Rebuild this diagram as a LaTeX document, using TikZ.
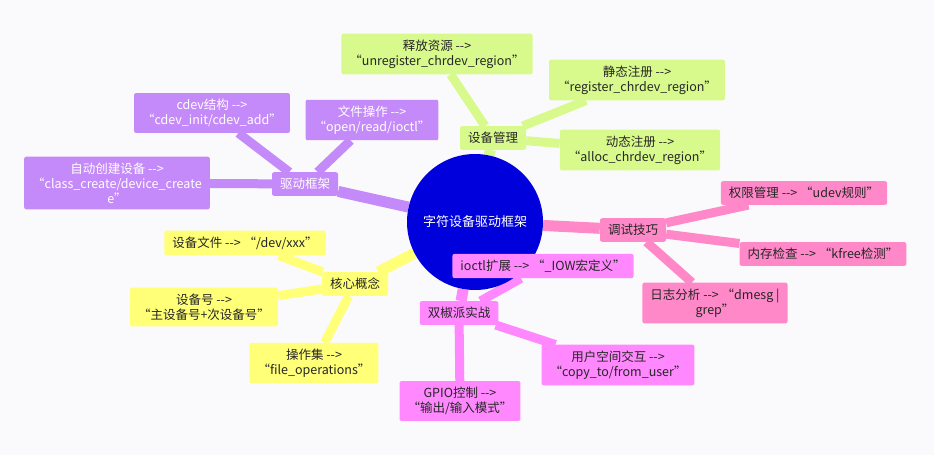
\documentclass[tikz,border=0pt]{standalone}
\usepackage{fontspec}
\newfontfamily\cjk{Noto Sans CJK SC}
\usetikzlibrary{backgrounds}
\definecolor{rootblue}{HTML}{0000DD}
\definecolor{drvpurple}{HTML}{C58AF9}
\definecolor{mgrgreen}{HTML}{D8FA8C}
\definecolor{dbgpink}{HTML}{FF88C8}
\definecolor{pimagenta}{HTML}{FF88FF}
\definecolor{coreyellow}{HTML}{FFFF78}
\definecolor{bgcol}{HTML}{FAFAFC}

\tikzset{
  leaf/.style = {rounded corners=2pt, align=center, inner xsep=8pt, inner ysep=6pt,
                 font=\cjk\fontsize{12.5}{15}\selectfont, text=black!85},
  branch/.style = {leaf, inner ysep=6pt},
  drv/.style = {fill=drvpurple, text=white},
  mgr/.style = {fill=mgrgreen},
  dbg/.style = {fill=dbgpink},
  prac/.style = {fill=pimagenta},
  core/.style = {fill=coreyellow},
  link/.style = {line width=9pt},
  trunk/.style = {line width=11pt}
}

\begin{document}
\begin{tikzpicture}[x=1pt,y=-1pt]
\useasboundingbox (0,0) rectangle (934,455);

% root
\node[circle, fill=rootblue, minimum size=136pt, text=white,
      font=\cjk\fontsize{13}{15}\selectfont] (root) at (475,222) {字符设备驱动框架};

% driver framework
\node[branch,drv] (drv) at (305,184) {驱动框架};
\node[leaf,drv] (cdev) at (212,113) {cdev结构 -->\\“cdev\_init/cdev\_add”};
\node[leaf,drv] (fops) at (372,120) {文件操作 -->\\“open/read/ioctl”};
\node[leaf,drv] (auto) at (117,183) {自动创建设备 -->\\“class\_create/device\_create\\e”};

% device management
\node[branch,mgr] (mgr) at (493,138) {设备管理};
\node[leaf,mgr] (release) at (437,54) {释放资源 -->\\“unregister\_chrdev\_region”};
\node[leaf,mgr] (static) at (637,80) {静态注册 -->\\“register\_chrdev\_region”};
\node[leaf,mgr] (dynamic) at (640,150) {动态注册 -->\\“alloc\_chrdev\_region”};

% debugging
\node[branch,dbg] (dbg) at (633,230) {调试技巧};
\node[leaf,dbg] (perm) at (804,193) {权限管理 --> “udev规则”};
\node[leaf,dbg] (mem) at (823,254) {内存检查 --> “kfree检测”};
\node[leaf,dbg] (log) at (715,303) {日志分析 --> “dmesg |\\grep”};

% pi practice
\node[branch,prac] (prac) at (459,313) {双椒派实战};
\node[leaf,prac] (ioctl) at (543,266) {ioctl扩展 --> “\_IOW宏定义”};
\node[leaf,prac] (user) at (618,365) {用户空间交互 -->\\“copy\_to/from\_user”};
\node[leaf,prac] (gpio) at (460,401) {GPIO控制 -->\\“输出/输入模式”};

% core concepts
\node[branch,core] (core) at (355,284) {核心概念};
\node[leaf,core] (devfile) at (245,243) {设备文件 --> “/dev/xxx”};
\node[leaf,core] (devno) at (204,307) {设备号 -->\\“主设备号+次设备号”};
\node[leaf,core] (opset) at (314,363) {操作集 -->\\“file\_operations”};

\begin{scope}[on background layer]
\fill[bgcol] (0,0) rectangle (934,455);
\draw[trunk,drvpurple] (root) -- (drv);
\draw[trunk,mgrgreen] (root) -- (mgr);
\draw[trunk,dbgpink] (root) -- (dbg);
\draw[trunk,pimagenta] (root) -- (prac);
\draw[trunk,coreyellow] (root) -- (core);
\foreach \a/\b/\c in {drv/cdev/drvpurple, drv/fops/drvpurple, drv/auto/drvpurple,
                      mgr/release/mgrgreen, mgr/static/mgrgreen, mgr/dynamic/mgrgreen,
                      dbg/perm/dbgpink, dbg/mem/dbgpink, dbg/log/dbgpink,
                      prac/ioctl/pimagenta, prac/user/pimagenta, prac/gpio/pimagenta,
                      core/devfile/coreyellow, core/devno/coreyellow, core/opset/coreyellow}
  \draw[link,\c] (\a) -- (\b);
\end{scope}
\end{tikzpicture}
\end{document}
